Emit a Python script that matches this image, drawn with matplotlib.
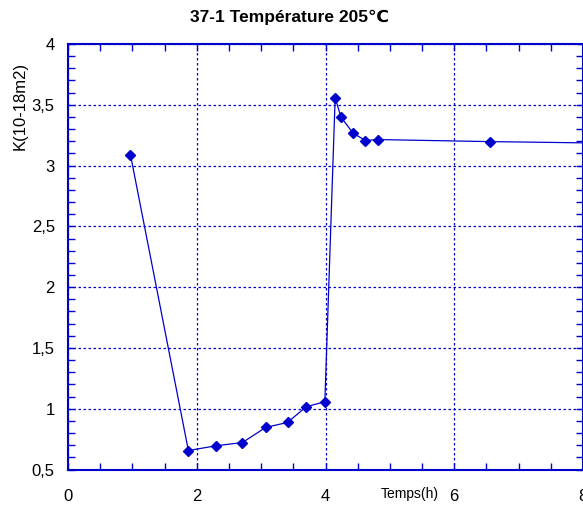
import matplotlib
matplotlib.use("Agg")
import matplotlib.pyplot as plt
from matplotlib.ticker import MultipleLocator, FuncFormatter

plt.rcParams['font.family'] = ['Liberation Sans', 'DejaVu Sans']

# data
temps = [0.97, 1.87, 2.30, 2.71, 3.07, 3.41, 3.70, 3.99, 4.15, 4.24, 4.43, 4.62, 4.81, 6.56, 9.0]
k = [3.09, 0.656, 0.695, 0.722, 0.846, 0.887, 1.016, 1.058, 3.558, 3.398, 3.266, 3.206, 3.214, 3.197, 3.18]

blue = '#0000CC'

fig = plt.figure(figsize=(5.83, 5.32), dpi=100)
ax = fig.add_axes([68 / 583, 62.5 / 532, 515 / 583, 425.5 / 532])

ax.plot(temps, k, color=blue, lw=0.9, marker='D', markersize=5, clip_on=True)

ax.set_xlim(0, 8)
ax.set_ylim(0.5, 4)
ax.xaxis.set_major_locator(MultipleLocator(2))
ax.xaxis.set_minor_locator(MultipleLocator(0.5))
ax.yaxis.set_major_locator(MultipleLocator(0.5))
ax.yaxis.set_minor_locator(MultipleLocator(0.1))

fmt = FuncFormatter(lambda v, p: ('%g' % v).replace('.', ','))
ax.yaxis.set_major_formatter(fmt)
ax.xaxis.set_major_formatter(fmt)

ax.tick_params(which='both', direction='in', top=True, right=True, color=blue,
               labelsize=12)
ax.tick_params(which='major', length=5, width=1)
ax.tick_params(which='minor', length=5, width=1)
ax.tick_params(axis='x', pad=14)
ax.tick_params(axis='y', pad=9.5)

ax.grid(True, which='major', color=blue, lw=0.9, ls=(0, (2, 2)))
for s in ax.spines.values():
    s.set_color(blue)
    s.set_linewidth(1.5)

ax.set_xlabel('Temps(h)', fontsize=10)
ax.xaxis.set_label_coords(0.664, -0.041)
ax.set_ylabel('K(10-18m2)', fontsize=12)
ax.yaxis.set_label_coords(-0.078, 0.854)

fig.text(0.496, 0.967, '37-1 Température 205℃', ha='center', va='center',
         fontsize=12.5, fontweight='bold')

fig.savefig('out.png', dpi=100)
